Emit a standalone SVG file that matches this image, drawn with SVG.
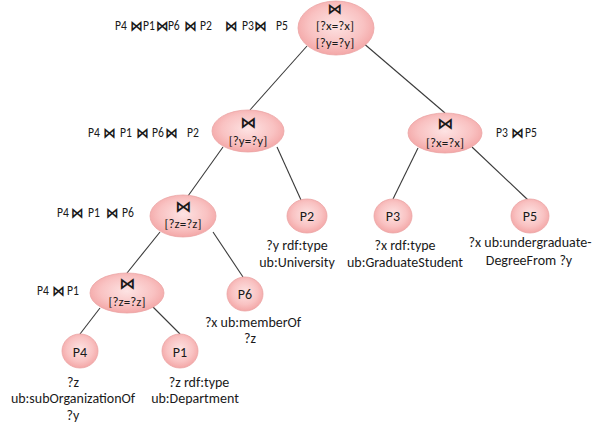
<svg xmlns="http://www.w3.org/2000/svg" width="593" height="426" viewBox="0 0 593 426">
<style>
text{font-family:Carlito,Lato,"DejaVu Sans",sans-serif;font-size:14px;fill:#1a1a1a}
.c{text-anchor:middle}
.n{font-size:13px}
.pl{font-size:13.5px}
.bt{font-family:"DejaVu Sans",sans-serif;font-weight:bold;font-size:16px}
.bts{font-family:"DejaVu Sans",sans-serif;font-weight:bold;font-size:15px}
.node{fill:url(#pink);stroke:#eba5a5;stroke-width:0.8}
.edge{stroke:#3a3a3a;stroke-width:1.1;fill:none}
</style>
<defs>
<radialGradient id="pink" cx="50%" cy="45%" r="60%">
<stop offset="0" stop-color="#fde3e3"/>
<stop offset="0.6" stop-color="#f9c2c2"/>
<stop offset="1" stop-color="#f2a0a0"/>
</radialGradient>
</defs>
<g id="connectors">
<line class="edge" x1="307" y1="46" x2="250" y2="110"/>
<line class="edge" x1="362" y1="42" x2="445" y2="113"/>
<line class="edge" x1="223" y1="147" x2="188" y2="196"/>
<line class="edge" x1="277" y1="147" x2="301" y2="200"/>
<line class="edge" x1="418" y1="148" x2="393" y2="199"/>
<line class="edge" x1="472" y1="147" x2="528" y2="200"/>
<line class="edge" x1="160" y1="232" x2="127" y2="273"/>
<line class="edge" x1="213" y1="232" x2="243" y2="277"/>
<line class="edge" x1="100" y1="308" x2="80" y2="334"/>
<line class="edge" x1="153" y1="307" x2="180" y2="334"/>
</g>
<g id="join_root">
<ellipse class="node" cx="336" cy="28" rx="38" ry="27"/>
<text class="c bts" x="335" y="14">⋈</text>
<text class="c n" x="335" y="30">[?x=?x]</text>
<text class="c n" x="335" y="46.5">[?y=?y]</text>
<text class="pl" transform="translate(115 29.5) scale(0.86 1)"><tspan x="0" y="0">P4</tspan><tspan class="bts" x="17.6" y="1">⋈</tspan><tspan x="32.6" y="0">P1</tspan><tspan class="bts" x="47.8" y="1">⋈</tspan><tspan x="61.5" y="0">P6</tspan><tspan class="bts" x="80.4" y="1">⋈</tspan><tspan x="98.8" y="0">P2</tspan><tspan class="bts" x="128" y="1">⋈</tspan><tspan x="147.7" y="0">P3</tspan><tspan class="bts" x="161.8" y="1">⋈</tspan><tspan x="187.2" y="0">P5</tspan></text>
</g>
<g id="join_y">
<ellipse class="node" cx="248" cy="131" rx="36" ry="21"/>
<text class="c bt" x="248" y="128">⋈</text>
<text class="c n" x="248" y="144.5">[?y=?y]</text>
<text class="pl" transform="translate(88 136.5) scale(0.86 1)"><tspan x="0" y="0">P4</tspan><tspan class="bts" x="17.6" y="1">⋈</tspan><tspan x="37.2" y="0">P1</tspan><tspan class="bts" x="56" y="1">⋈</tspan><tspan x="74.4" y="0">P6</tspan><tspan class="bts" x="89.7" y="1">⋈</tspan><tspan x="115.1" y="0">P2</tspan></text>
</g>
<g id="join_x">
<ellipse class="node" cx="445" cy="133" rx="37" ry="20"/>
<text class="c bt" x="445" y="129">⋈</text>
<text class="c n" x="445" y="146.5">[?x=?x]</text>
<text class="pl" transform="translate(496 136.5) scale(0.86 1)"><tspan x="0" y="0">P3</tspan><tspan class="bts" x="17.6" y="1">⋈</tspan><tspan x="33.7" y="0">P5</tspan></text>
</g>
<g id="join_z1">
<ellipse class="node" cx="183" cy="216" rx="33" ry="21"/>
<text class="c bt" x="183" y="212">⋈</text>
<text class="c n" x="183" y="227.5">[?z=?z]</text>
<text class="pl" transform="translate(57 216.5) scale(0.86 1)"><tspan x="0" y="0">P4</tspan><tspan class="bts" x="16.4" y="1">⋈</tspan><tspan x="36" y="0">P1</tspan><tspan class="bts" x="57.1" y="1">⋈</tspan><tspan x="75.6" y="0">P6</tspan></text>
</g>
<g id="join_z2">
<ellipse class="node" cx="127" cy="293" rx="37" ry="20"/>
<text class="c bt" x="127" y="289">⋈</text>
<text class="c n" x="127" y="305.5">[?z=?z]</text>
<text class="pl" transform="translate(37 294.5) scale(0.86 1)"><tspan x="0" y="0">P4</tspan><tspan class="bts" x="17.6" y="1">⋈</tspan><tspan x="34.9" y="0">P1</tspan></text>
</g>
<g id="P2">
<ellipse class="node" cx="307" cy="216" rx="20" ry="17"/>
<text class="c" x="307" y="221">P2</text>
<text class="c" x="297" y="250">?y rdf:type</text>
<text class="c" x="297" y="267">ub:University</text>
</g>
<g id="P3">
<ellipse class="node" cx="393" cy="216" rx="19" ry="17"/>
<text class="c" x="393" y="221">P3</text>
<text class="c" x="405" y="250">?x rdf:type</text>
<text class="c" x="405" y="267">ub:GraduateStudent</text>
</g>
<g id="P5">
<ellipse class="node" cx="530" cy="216" rx="19" ry="17"/>
<text class="c" x="530" y="221">P5</text>
<text class="c" x="530" y="247">?x ub:undergraduate-</text>
<text class="c" x="529" y="265">DegreeFrom ?y</text>
</g>
<g id="P6">
<ellipse class="node" cx="245" cy="294" rx="18" ry="17"/>
<text class="c" x="245" y="298.5">P6</text>
<text class="c" x="253" y="327">?x ub:memberOf</text>
<text class="c" x="250" y="343">?z</text>
</g>
<g id="P4">
<ellipse class="node" cx="80" cy="351" rx="18" ry="17"/>
<text class="c" x="80" y="356.5">P4</text>
<text class="c" x="73" y="387">?z</text>
<text class="c" x="73" y="403">ub:subOrganizationOf</text>
<text class="c" x="73" y="420">?y</text>
</g>
<g id="P1">
<ellipse class="node" cx="180" cy="351" rx="18" ry="17"/>
<text class="c" x="180" y="356.5">P1</text>
<text class="c" x="199" y="387">?z rdf:type</text>
<text class="c" x="195" y="403">ub:Department</text>
</g>
</svg>
